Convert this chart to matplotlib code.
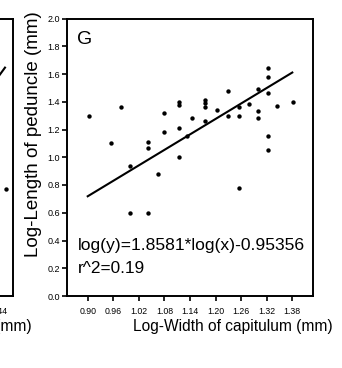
import matplotlib
matplotlib.use("Agg")
import matplotlib.pyplot as plt

plt.rcParams['font.family'] = ['Liberation Sans', 'DejaVu Sans']

# panel G: log width of capitulum vs log length of peduncle
width_x = [0.903, 0.954, 0.977, 1.000, 1.000, 1.041, 1.041, 1.042, 1.064,
           1.079, 1.079, 1.114, 1.114, 1.114, 1.114, 1.133, 1.145, 1.176,
           1.176, 1.176, 1.176, 1.203, 1.230, 1.230, 1.256, 1.256, 1.256,
           1.278, 1.300, 1.300, 1.300, 1.323, 1.323, 1.323, 1.323, 1.323,
           1.343, 1.381]
peduncle_y = [1.30, 1.10, 1.36, 0.94, 0.60, 1.11, 1.07, 0.60, 0.876,
              1.32, 1.18, 1.40, 1.38, 1.21, 1.00, 1.15, 1.28, 1.41,
              1.39, 1.36, 1.26, 1.34, 1.48, 1.30, 1.36, 1.30, 0.78,
              1.385, 1.49, 1.33, 1.28, 1.64, 1.58, 1.46, 1.15, 1.05,
              1.37, 1.40]
slope, intercept = 1.8581, -0.95356
fit_x = [0.90, 1.38]
x_ticks = [0.90, 0.96, 1.02, 1.08, 1.14, 1.20, 1.26, 1.32, 1.38]
y_ticks = [0.0, 0.2, 0.4, 0.6, 0.8, 1.0, 1.2, 1.4, 1.6, 1.8, 2.0]

# neighbouring panel, only its right edge is inside the picture
prev_line_x = [1.20, 1.454]
prev_line_y = [0.58, 1.646]
prev_pt_x = [1.4564]
prev_pt_y = [0.77]
prev_ticks = [0.92, 0.98, 1.04, 1.10, 1.16, 1.22, 1.28, 1.34, 1.40, 1.44]

W, H = 342, 368
fig = plt.figure(figsize=(W / 100, H / 100), dpi=100)

def px_axes(left, right, top, bottom):
    return fig.add_axes([left / W, 1 - bottom / H, (right - left) / W, (bottom - top) / H])

def style(ax):
    for s in ax.spines.values():
        s.set_linewidth(1.4)
    ax.tick_params(direction='out', length=3.5, width=1.2, pad=1.5)
    ax.tick_params(axis='x', labelsize=6.3, pad=4.5)
    ax.tick_params(axis='y', labelsize=6.5)
    ax.set_ylim(0, 2.0)
    ax.set_yticks(y_ticks)
    ax.set_yticklabels([f"{v:.1f}" for v in y_ticks])
    ax.set_xlabel("Log-Width of capitulum (mm)", fontsize=11.2)
    ax.xaxis.set_label_coords(0.673, -0.083)

ax = px_axes(67, 313, 18.5, 296)
style(ax)
ax.set_xlim(0.8514, 1.4286)
ax.set_xticks(x_ticks)
ax.set_xticklabels([f"{v:.2f}" for v in x_ticks])
ax.scatter(width_x, peduncle_y, s=10, color='black', zorder=3, linewidths=0)
ax.plot(fit_x, [slope * v + intercept for v in fit_x], color='black', lw=1.5)

yl = ax.set_ylabel("Log-Length of peduncle (mm)", fontsize=13.5)
ax.yaxis.set_label_coords(-0.138, 0.585)
yl.set_va('center')

ax.text(0.042, 0.909, "G", transform=ax.transAxes, fontsize=14, ha='left', va='baseline')
ax.text(0.045, 0.165, f"log(y)={slope}*log(x){intercept}", transform=ax.transAxes,
        fontsize=12.6, ha='left', va='baseline')
ax.text(0.045, 0.083, "r^2=0.19", transform=ax.transAxes,
        fontsize=12.4, ha='left', va='baseline')

ax0 = px_axes(12.7 - 246, 12.7, 18.5, 296)
style(ax0)
ax0.set_xlim(0.895, 1.4721)
ax0.set_xticks(prev_ticks)
ax0.set_xticklabels([f"{v:.2f}" for v in prev_ticks])
ax0.set_yticklabels([])
ax0.plot(prev_line_x, prev_line_y, color='black', lw=1.5)
ax0.scatter(prev_pt_x, prev_pt_y, s=10, color='black', zorder=3, linewidths=0)

fig.savefig("out.png", dpi=100)
